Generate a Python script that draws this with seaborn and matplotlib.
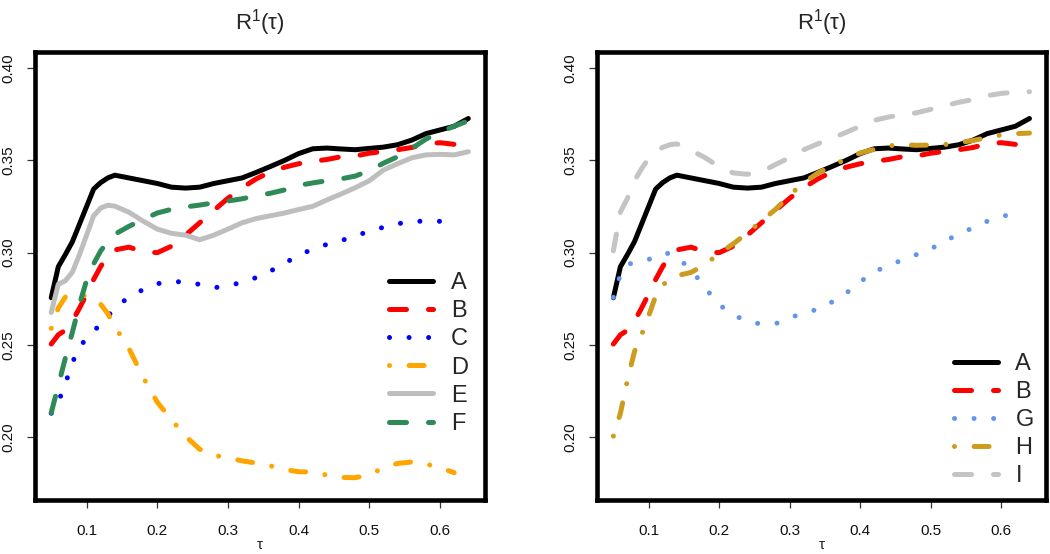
import numpy as np
import pandas as pd
import matplotlib
matplotlib.use("Agg")
import matplotlib.pyplot as plt
import seaborn as sns

nan = np.nan
tau = [0.05, 0.06, 0.07, 0.08, 0.09, 0.10, 0.11, 0.12, 0.13, 0.14,
       0.16, 0.18, 0.20, 0.22, 0.24, 0.26, 0.28, 0.30, 0.32, 0.34,
       0.36, 0.38, 0.40, 0.42, 0.44, 0.46, 0.48, 0.50, 0.52, 0.54,
       0.56, 0.58, 0.60, 0.62, 0.64]

A = [0.2756, 0.2924, 0.299, 0.306, 0.3155, 0.325, 0.3345, 0.338, 0.3405, 0.342,
     0.3405, 0.339, 0.3375, 0.3355, 0.335, 0.3355, 0.3375, 0.339, 0.3405, 0.3435,
     0.3467, 0.350, 0.3537, 0.3563, 0.3567, 0.3562, 0.3558, 0.3565, 0.3572, 0.3585,
     0.361, 0.3645, 0.3665, 0.3685, 0.3727]
B = [0.2505, 0.2555, 0.258, 0.263, 0.270, 0.2775, 0.2855, 0.2925, 0.2985, 0.3015,
     0.3030, 0.3005, 0.3000, 0.3035, 0.3095, 0.3162, 0.3229, 0.3295, 0.3352, 0.340,
     0.3438, 0.3463, 0.3482, 0.3495, 0.3505, 0.352, 0.3524, 0.3539, 0.3549, 0.3558,
     0.357, 0.359, 0.3596, 0.3587, nan]
C = [0.213, 0.219, 0.229, 0.2405, 0.249, 0.2535, 0.2573, 0.2615, 0.2655, 0.270,
     0.276, 0.280, 0.2832, 0.2843, 0.2842, 0.2828, 0.281, 0.282, 0.284, 0.2865,
     0.290, 0.2943, 0.2985, 0.302, 0.3045, 0.3065, 0.3092, 0.3115, 0.3138, 0.3157,
     0.3168, 0.3172, 0.3170, 0.3158, nan]
D = [0.259, 0.270, 0.276, 0.2775, 0.277, 0.2765, 0.2755, 0.272, 0.267, 0.260,
     0.248, 0.2325, 0.219, 0.2095, 0.2005, 0.1935, 0.1902, 0.1889, 0.1872, 0.186,
     0.1845, 0.1825, 0.1813, 0.1812, 0.1795, 0.1782, 0.1781, 0.1796, 0.1835, 0.1858,
     0.1866, 0.1855, 0.1835, 0.1808, nan]
E = [0.2676, 0.2829, 0.2848, 0.2895, 0.299, 0.3095, 0.32, 0.3242, 0.3257, 0.3252,
     0.3219, 0.3171, 0.3128, 0.3105, 0.3095, 0.307, 0.3095, 0.3128, 0.3162, 0.3185,
     0.320, 0.3215, 0.3234, 0.3251, 0.3286, 0.3318, 0.3352, 0.339, 0.3448, 0.3482,
     0.3514, 0.353, 0.3533, 0.353, 0.3547]
F = [0.2133, 0.228, 0.243, 0.257, 0.272, 0.285, 0.294, 0.301, 0.306, 0.310,
     0.3143, 0.318, 0.3215, 0.3235, 0.3248, 0.3258, 0.327, 0.328, 0.3292, 0.3308,
     0.3322, 0.334, 0.3365, 0.3378, 0.339, 0.340, 0.3415, 0.3445, 0.3485, 0.352,
     0.3565, 0.3615, 0.3655, 0.3685, 0.3715]
G = [0.2758, 0.288, 0.2935, 0.2948, 0.2957, 0.2963, 0.298, 0.2998, 0.2995, 0.2975,
     0.291, 0.281, 0.2718, 0.2663, 0.2628, 0.2613, 0.2615, 0.2648, 0.2672, 0.2694,
     0.2733, 0.278, 0.2842, 0.2897, 0.293, 0.2961, 0.2990, 0.302, 0.3063, 0.3101,
     0.3135, 0.317, 0.3192, 0.3222, nan]
H = [0.2006, 0.213, 0.231, 0.2465, 0.2555, 0.2657, 0.2765, 0.2825, 0.2855, 0.2875,
     0.2893, 0.2935, 0.2996, 0.3048, 0.3107, 0.3172, 0.3235, 0.3312, 0.338, 0.3432,
     0.347, 0.3508, 0.354, 0.356, 0.3579, 0.3585, 0.3582, 0.3583, 0.3586, 0.3597,
     0.3608, 0.3624, 0.3638, 0.3645, 0.3648]
I = [0.301, 0.322, 0.3295, 0.339, 0.3455, 0.351, 0.3548, 0.3571, 0.3585, 0.359,
     0.3555, 0.3515, 0.3465, 0.3432, 0.3425, 0.3438, 0.3478, 0.3515, 0.3558, 0.359,
     0.362, 0.3652, 0.3685, 0.3717, 0.3735, 0.3748, 0.3758, 0.3777, 0.3797, 0.3815,
     0.383, 0.3851, 0.3863, 0.387, 0.3872]

left_series = ["A", "B", "C", "D", "E", "F"]
right_series = ["A", "B", "G", "H", "I"]
x_ticks = [0.1, 0.2, 0.3, 0.4, 0.5, 0.6]
y_ticks = [0.20, 0.25, 0.30, 0.35, 0.40]
title = "R$^{1}$(τ)"
xlabel = "τ"

values = {"A": A, "B": B, "C": C, "D": D, "E": E, "F": F, "G": G, "H": H, "I": I}

solid = (0, ())
dashed = (0, (3.4, 4.4))
dotted = (0, (0.01, 3.9))
dotdash = (0, (0.01, 3.9, 3.0, 3.9))
styles = {
    "A": ("#000000", solid),
    "B": ("#FF0000", dashed),
    "C": ("#0000FF", dotted),
    "D": ("#FFA500", dotdash),
    "E": ("#BEBEBE", solid),
    "F": ("#2E8B57", dashed),
    "G": ("#6495ED", dotted),
    "H": ("#CD9B1D", dotdash),
    "I": ("#C4C4C4", dashed),
}

sns.set_style("white")
plt.rcParams["font.family"] = ["Liberation Sans", "DejaVu Sans"]
plt.rcParams["mathtext.fontset"] = "custom"
plt.rcParams["mathtext.rm"] = "Liberation Sans"
plt.rcParams["mathtext.it"] = "Liberation Sans"
plt.rcParams["mathtext.bf"] = "Liberation Sans:bold"
plt.rcParams["lines.dash_capstyle"] = "round"
plt.rcParams["lines.solid_capstyle"] = "round"
plt.rcParams["lines.dash_joinstyle"] = "round"
plt.rcParams["lines.solid_joinstyle"] = "round"

df = pd.DataFrame({"tau": tau, **values})

fig = plt.figure(figsize=(10.5, 5.54), dpi=100)
ax_l = fig.add_axes([0.0329, 0.0975, 0.429, 0.8095])
ax_r = fig.add_axes([0.5683, 0.0975, 0.428, 0.8095])

LW = 3.6


def draw(ax, names, legend_anchor):
    for name in names:
        color, ls = styles[name]
        sub = df[["tau", name]].dropna()
        sns.lineplot(data=sub, x="tau", y=name, ax=ax, color=color,
                     linewidth=LW, linestyle=ls, errorbar=None, label=name,
                     sort=True)
    ax.set_xlim(0.0264, 0.6636)
    ax.set_ylim(0.166, 0.409)
    ax.set_xticks(x_ticks)
    ax.set_xticklabels([f"{t:.1f}" for t in x_ticks])
    ax.set_yticks(y_ticks)
    ax.set_yticklabels([f"{t:.2f}" for t in y_ticks], rotation=90, va="center")
    ax.tick_params(axis="both", which="both", direction="out", length=6,
                   width=0.9, color="#333333", labelsize=11, labelcolor="#111111",
                   bottom=True, left=True, top=False, right=False)
    ax.tick_params(axis="x", pad=11)
    ax.tick_params(axis="y", pad=8)
    for sp in ax.spines.values():
        sp.set_visible(True)
        sp.set_color("black")
        sp.set_linewidth(3.3)
    ax.set_xlabel(xlabel, fontsize=11, labelpad=0)
    ax.set_ylabel("")
    ax.set_title(title, fontsize=16, pad=16)
    leg = ax.legend(loc="upper left", bbox_to_anchor=legend_anchor,
                    frameon=False, fontsize=17, handlelength=1.85,
                    handletextpad=0.75, labelspacing=0.26, borderpad=0,
                    borderaxespad=0)
    for line in leg.get_lines():
        line.set_linewidth(LW)


draw(ax_l, left_series, (0.788, 0.508))
draw(ax_r, right_series, (0.795, 0.328))

fig.savefig("out.png", dpi=100)
